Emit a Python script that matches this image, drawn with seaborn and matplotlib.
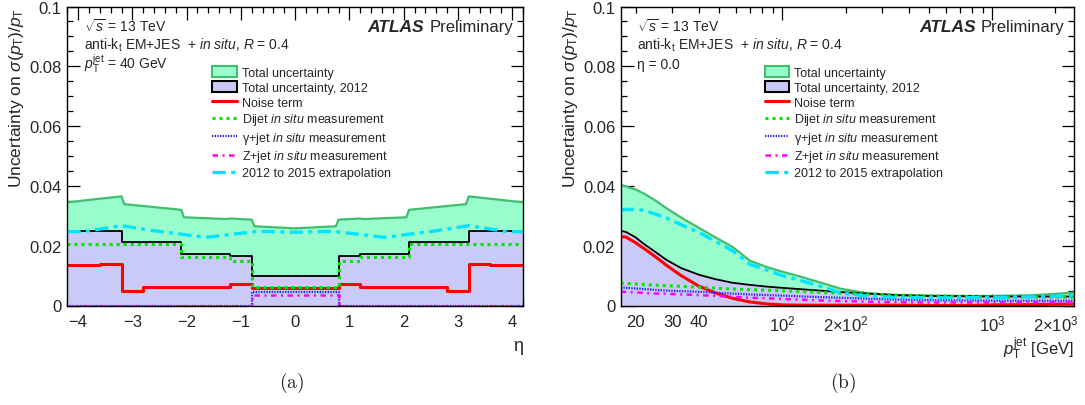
import numpy as np
import seaborn as sns
import matplotlib.pyplot as plt
from matplotlib.patches import Patch
from matplotlib.lines import Line2D
from matplotlib.ticker import FixedLocator, FixedFormatter, MultipleLocator

# ---- panel (a): uncertainty vs eta at pT = 40 GeV ----
eta_edges = [-4.2, -3.6, -3.2, -2.8, -2.1, -1.2, -0.8, 0.8, 1.2, 2.1, 2.8, 3.2, 3.6, 4.2]
total2012_eta = [0.0248, 0.0248, 0.0213, 0.0213, 0.0172, 0.0165, 0.0100,
                 0.0165, 0.0172, 0.0213, 0.0213, 0.0248, 0.0248]
noise_eta = [0.0135, 0.0139, 0.0050, 0.0063, 0.0063, 0.0072, 0.0058,
             0.0072, 0.0063, 0.0063, 0.0050, 0.0139, 0.0135]
dijet_eta = [0.0206, 0.0206, 0.0206, 0.0206, 0.0161, 0.0150, 0.0061,
             0.0150, 0.0161, 0.0206, 0.0206, 0.0206, 0.0206]
gammajet_eta = [0, 0, 0, 0, 0, 0, 0.0046, 0, 0, 0, 0, 0, 0]
zjet_eta = [0, 0, 0, 0, 0, 0, 0.0035, 0, 0, 0, 0, 0, 0]

eta_total = [-4.2, -3.2, -3.15, -2.1, -2.05, -1.25, -1.2, -0.8, -0.75, 0.0,
             0.75, 0.8, 1.2, 1.25, 2.05, 2.1, 3.15, 3.2, 4.2]
total_eta = [0.0345, 0.0365, 0.0339, 0.0320, 0.0295, 0.0289, 0.0291, 0.0287, 0.0265, 0.0258,
             0.0265, 0.0287, 0.0291, 0.0289, 0.0295, 0.0320, 0.0339, 0.0365, 0.0345]

eta_extrap = [-4.2, -3.9, -3.2, -2.6, -1.65, -0.7, 0.0, 0.7, 1.65, 2.6, 3.2, 3.9, 4.2]
extrap_eta = [0.0247, 0.0247, 0.0267, 0.0250, 0.0228, 0.0248, 0.0245,
              0.0248, 0.0228, 0.0250, 0.0267, 0.0247, 0.0247]

# ---- panel (b): uncertainty vs pT at eta = 0 ----
pt = [17, 18, 20, 22, 25, 28, 33, 40, 48, 58, 70, 85, 100, 120, 150, 190,
      250, 350, 500, 750, 1000, 1500, 2000, 2450]
total_pt = [0.0404, 0.0398, 0.0388, 0.0374, 0.0350, 0.0326, 0.0294, 0.0260, 0.0228, 0.0196,
            0.0150, 0.0128, 0.0113, 0.0098, 0.0078, 0.0056, 0.0042, 0.0034, 0.0033, 0.0032,
            0.0032, 0.0034, 0.0039, 0.0043]
extrap_pt = [0.0320, 0.0321, 0.0322, 0.0318, 0.0305, 0.0293, 0.0270, 0.0245, 0.0215, 0.0183,
             0.0138, 0.0118, 0.0100, 0.0085, 0.0066, 0.0042, 0.0032, 0.0027, 0.0026, 0.0026,
             0.0027, 0.0029, 0.0031, 0.0033]
total2012_pt = [0.0250, 0.0246, 0.0228, 0.0205, 0.0178, 0.0153, 0.0125, 0.0103, 0.0088, 0.0076,
                0.0069, 0.0063, 0.0059, 0.0055, 0.0050, 0.0045, 0.0040, 0.0035, 0.0032, 0.0031,
                0.0030, 0.0030, 0.0030, 0.0030]
noise_pt = [0.0230, 0.0229, 0.0210, 0.0190, 0.0162, 0.0135, 0.0100, 0.0065, 0.0042, 0.0024,
            0.0012, 0.0005, 0.0002, 0.0001, 0.0001, 0.0001, 0.0001, 0.0001, 0.0, 0.0,
            0.0002, 0.0003, 0.0004, 0.0005]
dijet_pt = [0.0075, 0.0074, 0.0072, 0.0070, 0.0068, 0.0066, 0.0064, 0.0061, 0.0058, 0.0055,
            0.0053, 0.0051, 0.0049, 0.0047, 0.0044, 0.0041, 0.0038, 0.0035, 0.0032, 0.0030,
            0.0029, 0.0028, 0.0028, 0.0028]
gammajet_pt = [0.0060, 0.0059, 0.0057, 0.0055, 0.0052, 0.0050, 0.0048, 0.0046, 0.0043, 0.0040,
               0.0037, 0.0035, 0.0033, 0.0031, 0.0028, 0.0026, 0.0023, 0.0020, 0.0018, 0.0017,
               0.0016, 0.0016, 0.0016, 0.0016]
zjet_pt = [0.0046, 0.0045, 0.0044, 0.0042, 0.0040, 0.0039, 0.0037, 0.0035, 0.0032, 0.0029,
           0.0026, 0.0024, 0.0022, 0.0020, 0.0017, 0.0015, 0.0013, 0.0011, 0.0010, 0.0010,
           0.0010, 0.0010, 0.0010, 0.0010]

legend_labels = ["Total uncertainty", "Total uncertainty, 2012", "Noise term",
                 "Dijet $\\it{in\\ situ}$ measurement", "γ+jet $\\it{in\\ situ}$ measurement",
                 "Z+jet $\\it{in\\ situ}$ measurement", "2012 to 2015 extrapolation"]

sns.set_style("ticks")
plt.rcParams['font.family'] = ['Liberation Sans', 'DejaVu Sans']
plt.rcParams['mathtext.fontset'] = 'custom'
plt.rcParams['mathtext.rm'] = 'Liberation Sans'
plt.rcParams['mathtext.it'] = 'Liberation Sans:italic'
plt.rcParams['mathtext.bf'] = 'Liberation Sans:bold'
plt.rcParams['axes.unicode_minus'] = True

MINT = '#99fccc'
MINT_EDGE = '#3fbf6e'
LAVENDER = '#cacaf8'
RED = '#ff0000'
DIJET = '#00e600'
GAMMA = '#2020ff'
ZJET = '#ff00ff'
CYAN = '#00e5ff'

styles = {
    "noise": dict(color=RED, lw=2.2, linestyle='-'),
    "dijet": dict(color=DIJET, lw=2.2, linestyle=(0, (1, 1.3))),
    "gamma": dict(color=GAMMA, lw=1.6, linestyle=(0, (0.6, 0.6))),
    "zjet": dict(color=ZJET, lw=1.8, linestyle=(0, (2.2, 1.8, 0.8, 1.8))),
    "extrap": dict(color=CYAN, lw=2.4, linestyle=(0, (4, 1.6, 1.2, 1.6))),
}


def step_line(ax, edges, vals, **kw):
    sns.lineplot(x=edges, y=list(vals) + [vals[-1]], drawstyle='steps-post',
                 estimator=None, sort=False, legend=False, ax=ax, **kw)


def smooth_line(ax, x, y, **kw):
    sns.lineplot(x=x, y=y, estimator=None, sort=False, legend=False, ax=ax, **kw)


fig = plt.figure(figsize=(10.85, 4.06), dpi=100)
ax1 = fig.add_axes([67.3 / 1085, 99.5 / 406, 455.7 / 1085, 299 / 406])
ax2 = fig.add_axes([620.7 / 1085, 99.5 / 406, 453.3 / 1085, 299 / 406])

# panel (a)
ax1.fill_between(eta_total, total_eta, color=MINT, lw=0)
smooth_line(ax1, eta_total, total_eta, color=MINT_EDGE, lw=1.6)
ax1.fill_between(eta_edges, list(total2012_eta) + [total2012_eta[-1]], step='post', color=LAVENDER, lw=0)
step_line(ax1, eta_edges, total2012_eta, color='black', lw=1.3)
step_line(ax1, eta_edges, noise_eta, **styles["noise"])
step_line(ax1, eta_edges, dijet_eta, **styles["dijet"])
step_line(ax1, eta_edges, gammajet_eta, **styles["gamma"])
step_line(ax1, eta_edges, zjet_eta, **styles["zjet"])
smooth_line(ax1, eta_extrap, extrap_eta, **styles["extrap"])
ax1.set_xlim(-4.2, 4.2)
ax1.xaxis.set_major_locator(MultipleLocator(1))
ax1.xaxis.set_minor_locator(MultipleLocator(0.2))

# panel (b)
ax2.set_xscale('log')
ax2.fill_between(pt, total_pt, color=MINT, lw=0)
smooth_line(ax2, pt, total_pt, color=MINT_EDGE, lw=1.6)
ax2.fill_between(pt, total2012_pt, color=LAVENDER, lw=0)
smooth_line(ax2, pt, total2012_pt, color='black', lw=1.3)
smooth_line(ax2, pt, noise_pt, **styles["noise"])
smooth_line(ax2, pt, dijet_pt, **styles["dijet"])
smooth_line(ax2, pt, gammajet_pt, **styles["gamma"])
smooth_line(ax2, pt, zjet_pt, **styles["zjet"])
smooth_line(ax2, pt, extrap_pt, **styles["extrap"])
ax2.set_xlim(17, 2450)
ax2.xaxis.set_major_locator(FixedLocator([100, 1000]))
ax2.xaxis.set_major_formatter(FixedFormatter(['$10^{2}$', '$10^{3}$']))
minor_pos = [20, 30, 40, 50, 60, 70, 80, 90, 200, 300, 400, 500, 600, 700, 800, 900, 2000]
minor_lab = ['20', '30', '40', '', '', '', '', '', '$2{\\times}10^{2}$',
             '', '', '', '', '', '', '', '$2{\\times}10^{3}$']
ax2.xaxis.set_minor_locator(FixedLocator(minor_pos))
ax2.xaxis.set_minor_formatter(FixedFormatter(minor_lab))

handles = [Patch(facecolor=MINT, edgecolor=MINT_EDGE, lw=1.5),
           Patch(facecolor=LAVENDER, edgecolor='black', lw=1.5),
           Line2D([], [], **styles["noise"]),
           Line2D([], [], **styles["dijet"]),
           Line2D([], [], **styles["gamma"]),
           Line2D([], [], **styles["zjet"]),
           Line2D([], [], **styles["extrap"])]

for ax, third in [(ax1, '$p_{\\rm T}^{\\rm jet}$ = 40 GeV'), (ax2, 'η = 0.0')]:
    ax.set_ylim(0, 0.1)
    ax.yaxis.set_major_locator(FixedLocator([0, 0.02, 0.04, 0.06, 0.08, 0.1]))
    ax.yaxis.set_major_formatter(FixedFormatter(['0', '0.02', '0.04', '0.06', '0.08', '0.1']))
    ax.yaxis.set_minor_locator(MultipleLocator(0.005))
    ax.tick_params(which='both', direction='in', top=True, right=True, width=0.9, color='black')
    ax.tick_params(which='major', length=9, labelsize=12, pad=4)
    ax.tick_params(which='minor', length=4.5, labelsize=12, pad=4)
    ax.tick_params(axis='x', which='both', pad=6)
    for s in ax.spines.values():
        s.set_linewidth(1.0)
        s.set_color('black')
    ax.set_ylabel('Uncertainty on $\\sigma(p_{\\rm T})/p_{\\rm T}$', fontsize=12.5, loc='top')
    ax.yaxis.set_label_coords(-0.09, 1.0)
    ax.text(0.037, 0.935, '$\\sqrt{s}$ = 13 TeV', transform=ax.transAxes, fontsize=10, va='center')
    ax.text(0.037, 0.875, 'anti-k$_{\\rm t}$ EM+JES  + $\\it{in\\ situ}$, $R$ = 0.4',
            transform=ax.transAxes, fontsize=10, va='center')
    ax.text(0.037, 0.808, third, transform=ax.transAxes, fontsize=10, va='center')
    ax.text(0.783, 0.933, 'ATLAS', transform=ax.transAxes, fontsize=12.5,
            fontweight='bold', fontstyle='italic', va='center', ha='right')
    ax.text(0.794, 0.933, 'Preliminary', transform=ax.transAxes, fontsize=12, va='center')
    ax.legend(handles, legend_labels, loc='upper left', bbox_to_anchor=(0.318, 0.8),
              frameon=False, fontsize=9, handlelength=1.95, handleheight=0.9,
              handletextpad=0.4, labelspacing=0.2, borderpad=0, borderaxespad=0)

ax1.set_xlabel('η', fontsize=13, loc='right', labelpad=6)
ax2.set_xlabel('$p_{\\rm T}^{\\rm jet}$ [GeV]', fontsize=12, loc='right', labelpad=1)

fig.text(292 / 1085, 1 - 383 / 406, '$\\mathrm{(a)}$', math_fontfamily='cm', fontsize=14,
         ha='center', va='center')
fig.text(843 / 1085, 1 - 383 / 406, '$\\mathrm{(b)}$', math_fontfamily='cm', fontsize=14,
         ha='center', va='center')

fig.savefig('out.png', dpi=100)
